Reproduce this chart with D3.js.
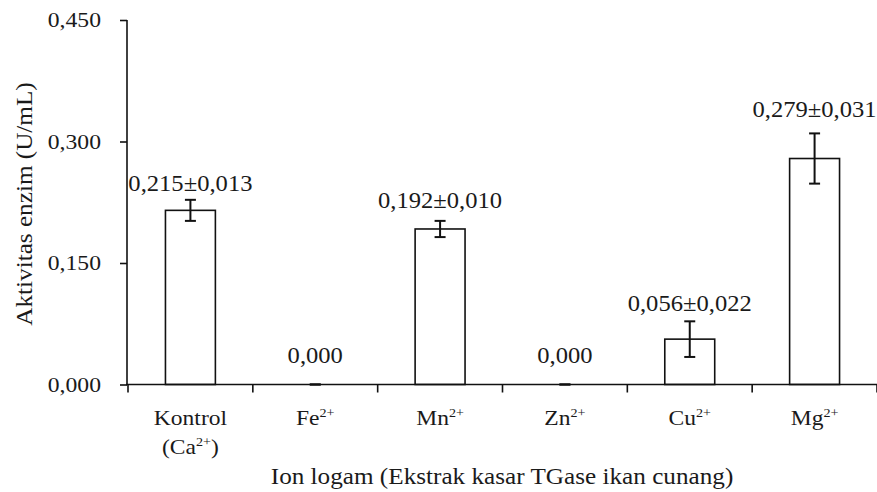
<!DOCTYPE html>
<html><head><meta charset="utf-8">
<script src="https://cdn.jsdelivr.net/npm/d3@7"></script>
<style>body{margin:0;background:#fff} svg{display:block} text{font-family:"Liberation Serif","Times New Roman",serif;fill:#1a1a1a}</style>
</head><body><svg id="c" width="877" height="492"></svg>
<script>
const categories = ["Kontrol (Ca2+)", "Fe2+", "Mn2+", "Zn2+", "Cu2+", "Mg2+"];
const activity = [0.215, 0.000, 0.192, 0.000, 0.056, 0.279];
const stdev = [0.013, 0.000, 0.010, 0.000, 0.022, 0.031];
const yTicks = [0, 0.15, 0.30, 0.45];
const yTitle = "Aktivitas enzim (U/mL)";
const xTitle = "Ion logam (Ekstrak kasar TGase ikan cunang)";

(function () {
const svg = d3.select("#c");
const yTop = 20, yBottom = 384.5, axisX = 127;
const x = d3.scaleBand().domain(categories).range([128, 877]).paddingInner(0.6).paddingOuter(0.3);
const y = d3.scaleLinear().domain([0, 0.45]).range([yBottom, yTop]);
const fmt = v => v.toFixed(3).replace(".", ",");
const ink = "#111";

function txt(px, py, size, sx, anchor, rot) {
  return svg.append("g")
    .attr("transform", `translate(${px},${py})${rot ? " rotate(" + rot + ")" : ""} scale(${sx},1)`)
    .append("text").attr("text-anchor", anchor).attr("font-size", size);
}
function addSup(t, s, size) {
  const parts = s.split("2+");
  t.append("tspan").text(parts[0]);
  if (parts.length > 1) {
    t.append("tspan").attr("font-size", size * 0.6).attr("dy", -size * 0.36).text("2+");
    if (parts[1]) t.append("tspan").attr("dy", size * 0.36).text(parts[1]);
  }
}

// bars
const data = categories.map((c, i) => ({ c, v: activity[i], e: stdev[i], i }));
svg.selectAll("rect.bar").data(data.filter(d => d.v > 0)).join("rect")
  .attr("class", "bar")
  .attr("x", d => x(d.c)).attr("y", d => y(d.v))
  .attr("width", x.bandwidth()).attr("height", d => y(0) - y(d.v))
  .attr("fill", "#fff").attr("stroke", ink).attr("stroke-width", 1.6);

// error bars
const cap = 5.5;
data.forEach(d => {
  const cx = x(d.c) + x.bandwidth() / 2;
  const g = svg.append("g").attr("stroke", ink).attr("stroke-width", 2);
  g.append("line").attr("x1", cx).attr("x2", cx).attr("y1", y(d.v - d.e)).attr("y2", y(d.v + d.e));
  g.append("line").attr("x1", cx - cap).attr("x2", cx + cap).attr("y1", y(d.v + d.e)).attr("y2", y(d.v + d.e));
  g.append("line").attr("x1", cx - cap).attr("x2", cx + cap).attr("y1", y(d.v - d.e)).attr("y2", y(d.v - d.e));
});

// value labels
const labelGap = [9, 21.5, 12.5, 21.5, 10.5, 16];
data.forEach(d => {
  const cx = x(d.c) + x.bandwidth() / 2;
  const s = d.v === 0 ? fmt(0) : fmt(d.v) + "±" + fmt(d.e);
  txt(cx, y(d.v + d.e) - labelGap[d.i], 23, 1.07, "middle").text(s);
});

// y axis
const yAxis = d3.axisLeft(y).tickValues(yTicks).tickSize(7).tickFormat("");
const ya = svg.append("g").attr("transform", `translate(${axisX},0)`).call(yAxis);
ya.select(".domain").attr("d", `M0,${yTop}V${yBottom}`).attr("stroke", ink).attr("stroke-width", 1.6);
ya.selectAll(".tick line").attr("stroke", ink).attr("stroke-width", 1.6);
yTicks.forEach(t => txt(101, y(t) + 7, 21.5, 1.1, "end").text(fmt(t)));

// x axis
const step = x.step();
const [x0, x1] = x.range();
svg.append("line").attr("x1", axisX - 1).attr("x2", x1).attr("y1", yBottom).attr("y2", yBottom)
  .attr("stroke", ink).attr("stroke-width", 1.6);
d3.range(categories.length + 1).forEach(i => {
  const tx = x0 + i * step;
  svg.append("line").attr("x1", tx).attr("x2", tx).attr("y1", yBottom).attr("y2", yBottom + 8)
    .attr("stroke", ink).attr("stroke-width", 1.6);
});
categories.forEach(c => {
  const cx = x(c) + x.bandwidth() / 2;
  const lines = c.includes(" (") ? [c.split(" (")[0], "(" + c.split(" (")[1]] : [c];
  lines.forEach((ln, k) => addSup(txt(cx, 425 + k * 28.5, 22, 1.07, "middle"), ln, 22));
});

// titles
txt(502, 484, 22.5, 1.12, "middle").text(xTitle);
txt(32, 204, 24, 1.05, "middle", -90).text(yTitle);
})();
</script></body></html>
